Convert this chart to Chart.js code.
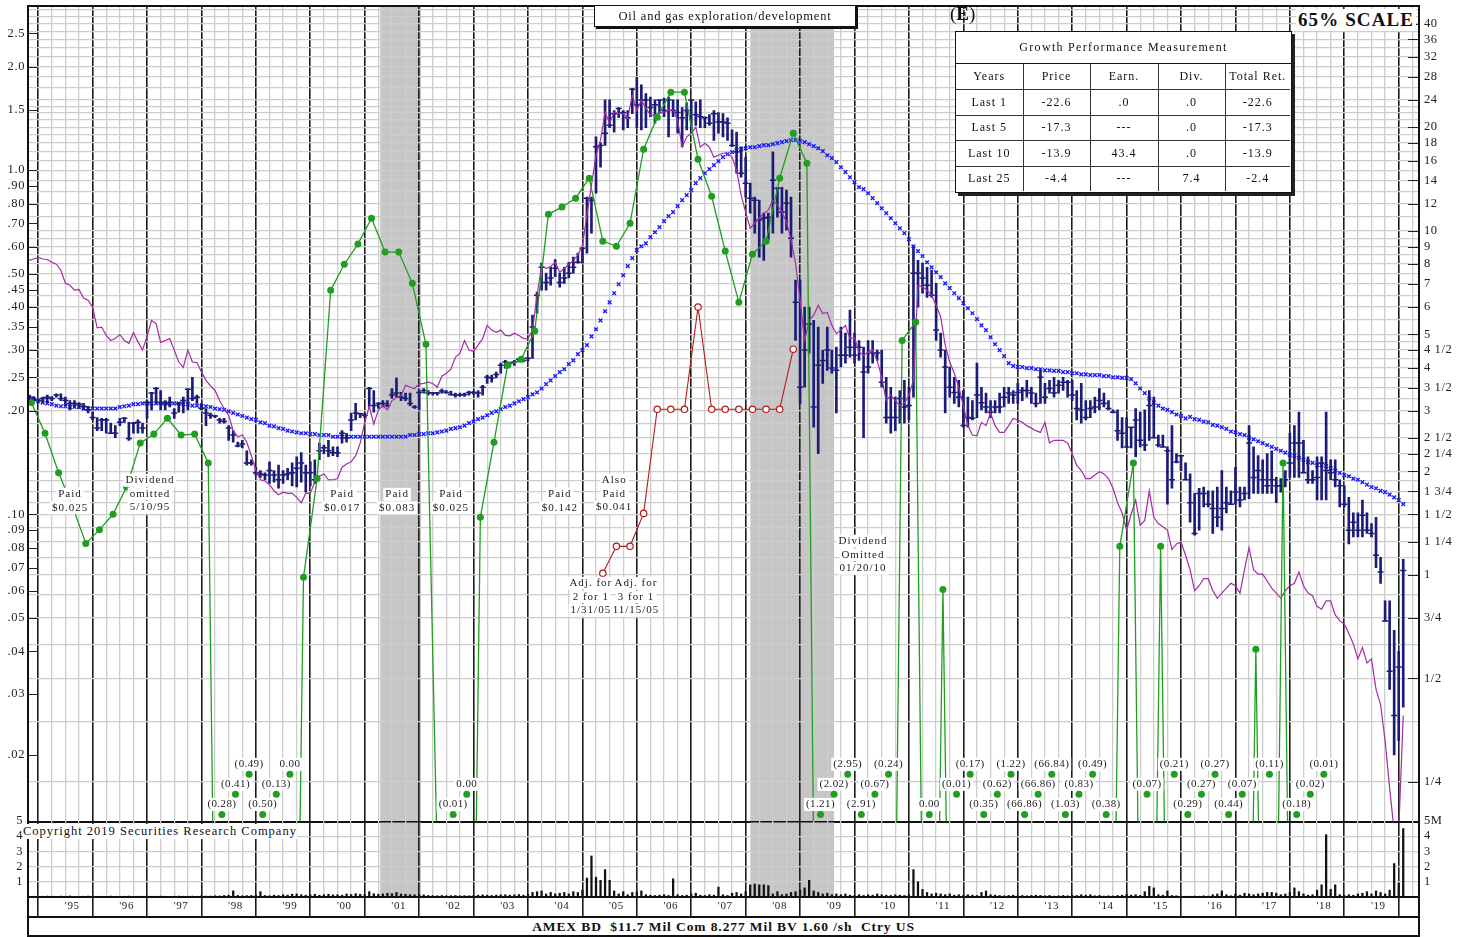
<!DOCTYPE html>
<html>
<head>
<meta charset="utf-8">
<title>Oil and gas exploration/development</title>
<script src="https://cdn.jsdelivr.net/npm/chart.js@4.4.1/dist/chart.umd.min.js"></script>
<style>
  body { margin: 0; background: #fff; }
  #page { position: relative; width: 1468px; height: 937px; overflow: hidden;
          font-family: "Liberation Serif", "Times New Roman", serif; color: #111; }
  canvas { position: absolute; left: 0; }
  #priceChart { top: 0; }
  #volChart { top: 815px; }
  #frame { position: absolute; left: 27px; top: 5px; width: 1393px; height: 931px;
           border: 2px solid #111; border-bottom: none; box-sizing: border-box; pointer-events: none; }
  #infoBar { position: absolute; left: 27px; top: 916px; width: 1393px; height: 21px;
             border: 2px solid #111; box-sizing: border-box; background: #fff; text-align: center;
             font-weight: bold; font-size: 13.5px; letter-spacing: 0.9px; line-height: 17px; white-space: pre; }
  #industry { position: absolute; left: 594px; top: 5px; width: 262px; height: 22px; box-sizing: border-box;
              border: 1.5px solid #111; box-shadow: 2px 2px 0 #111; background: #fff; text-align: center;
              font-size: 12.5px; letter-spacing: 0.8px; line-height: 21px; }
  #estMark { position: absolute; left: 950px; top: 3px; font-size: 19px; line-height: 22px; }
  #scale { position: absolute; left: 1296px; top: 9px; background: #fff; font-weight: bold;
           font-size: 19px; letter-spacing: 1.1px; line-height: 22px; padding: 0 2px; }
  #copy { position: absolute; left: 23px; top: 824px; font-size: 12.5px; letter-spacing: 1px;
          line-height: 15px; background: #fff; }
  #perf { position: absolute; left: 955px; top: 31px; width: 337px; height: 162px; box-sizing: border-box;
          border: 1.5px solid #111; box-shadow: 3px 3px 0 #222; background: #fff; }
  #perf .ttl { height: 31px; line-height: 31px; text-align: center; font-size: 12px; letter-spacing: 1.3px;
               border-bottom: 1.5px solid #111; }
  #perf table { border-collapse: collapse; table-layout: fixed; width: 334px; font-size: 12px; letter-spacing: 1px; }
  #perf td { border: 1px solid #333; text-align: center; height: 24.5px; padding: 0; overflow: hidden; white-space: nowrap; }
  #perf tr:first-child td { border-top: none; height: 25px; }
  #perf tr td:first-child { border-left: none; }
  #perf tr td:last-child { border-right: none; }
  #perf tr:last-child td { border-bottom: none; }
</style>
</head>
<body>
<div id="page">
  <canvas id="priceChart" width="1468" height="827"></canvas>
  <canvas id="volChart" width="1468" height="104"></canvas>
  <div id="frame"></div>
  <div id="industry">Oil and gas exploration/development</div>
  <div id="estMark">(<b>E</b>)</div>
  <div id="scale">65% SCALE</div>
  <div id="perf">
    <div class="ttl">Growth Performance Measurement</div>
    <table>
      <colgroup><col style="width:67px"><col style="width:67px"><col style="width:68px"><col style="width:67px"><col style="width:65px"></colgroup>
      <tr><td>Years</td><td>Price</td><td>Earn.</td><td>Div.</td><td>Total Ret.</td></tr>
      <tr><td>Last 1</td><td>-22.6</td><td>.0</td><td>.0</td><td>-22.6</td></tr>
      <tr><td>Last 5</td><td>-17.3</td><td>---</td><td>.0</td><td>-17.3</td></tr>
      <tr><td>Last 10</td><td>-13.9</td><td>43.4</td><td>.0</td><td>-13.9</td></tr>
      <tr><td>Last 25</td><td>-4.4</td><td>---</td><td>7.4</td><td>-2.4</td></tr>
    </table>
  </div>
  <div id="copy">Copyright 2019 Securities Research Company</div>
  <div id="infoBar">AMEX BD  $11.7 Mil Com 8.277 Mil BV 1.60 /sh  Ctry US</div>
</div>
<script>
// ---- data (monthly series start September 1994, one row per year) ----
const firstYear = 1994, firstMonth = 9;

const yearLabels = ["'95","'96","'97","'98","'99","'00","'01","'02","'03","'04","'05","'06",
  "'07","'08","'09","'10","'11","'12","'13","'14","'15","'16","'17","'18","'19"];

const leftTickValues = [2.5, 2.0, 1.5, 1.0, 0.9, 0.8, 0.7, 0.6, 0.5, 0.45, 0.4, 0.35, 0.3, 0.25, 0.2,
  0.1, 0.09, 0.08, 0.07, 0.06, 0.05, 0.04, 0.03, 0.02];
const leftTickLabels = ['2.5','2.0','1.5','1.0','.90','.80','.70','.60','.50','.45','.40','.35','.30','.25','.20',
  '.10','.09','.08','.07','.06','.05','.04','.03','.02'];

const rightTickValues = [40, 36, 32, 28, 24, 20, 18, 16, 14, 12, 10, 9, 8, 7, 6, 5, 4.5, 4, 3.5, 3,
  2.5, 2.25, 2, 1.75, 1.5, 1.25, 1, 0.75, 0.5, 0.25];
const rightTickLabels = ['40','36','32','28','24','20','18','16','14','12','10','9','8','7','6','5','4 1/2','4','3 1/2','3',
  '2 1/2','2 1/4','2','1 3/4','1 1/2','1 1/4','1','3/4','1/2','1/4'];
const rightGridValues = [44, 42, 40, 38, 36, 34, 32, 30, 28, 26, 24, 23, 22, 21, 20, 19, 18, 17, 16, 15, 14, 13, 12, 11,
  10, 9.5, 9, 8.5, 8, 7.5, 7, 6.5, 6, 5.5, 5, 4.75, 4.5, 4.25, 4, 3.75, 3.5, 3.25, 3, 2.75, 2.5, 2.25, 2,
  1.875, 1.75, 1.625, 1.5, 1.375, 1.25, 1.125, 1, 0.875, 0.75, 0.625, 0.5, 0.375, 0.25];

const volTickValues = [0, 1, 2, 3, 4, 5];
const volLabelsLeft = ['', '1', '2', '3', '4', '5'];
const volLabelsRight = ['', '1', '2', '3', '4', '5M'];

const priceHigh = [
  0.222,0.220,0.217,0.219,
  0.222,0.220,0.224,0.224,0.219,0.214,0.214,0.211,0.210,0.206,0.198,0.191,
  0.190,0.190,0.184,0.181,0.190,0.191,0.185,0.185,0.188,0.184,0.214,0.226,
  0.234,0.229,0.214,0.219,0.203,0.211,0.219,0.232,0.250,0.222,0.210,0.203,
  0.197,0.194,0.190,0.190,0.181,0.175,0.162,0.164,0.153,0.144,0.137,0.134,
  0.132,0.142,0.134,0.139,0.134,0.136,0.141,0.147,0.151,0.139,0.142,0.144,
  0.161,0.159,0.164,0.157,0.157,0.175,0.172,0.197,0.210,0.197,0.197,0.234,
  0.229,0.211,0.214,0.214,0.232,0.249,0.226,0.225,0.225,0.207,0.229,0.232,
  0.229,0.226,0.226,0.231,0.229,0.228,0.225,0.225,0.225,0.228,0.228,0.229,
  0.237,0.254,0.254,0.259,0.275,0.280,0.277,0.280,0.284,0.284,0.286,0.379,
  0.442,0.537,0.502,0.522,0.550,0.502,0.522,0.540,0.559,0.574,0.597,0.835,
  0.835,1.25,1.20,1.60,1.60,1.49,1.52,1.49,1.49,1.73,1.86,1.77,
  1.67,1.63,1.60,1.60,1.62,1.63,1.60,1.60,1.52,1.57,1.60,1.58,
  1.60,1.43,1.45,1.49,1.47,1.46,1.42,1.31,1.29,1.17,1.09,0.917,
  0.835,0.818,0.750,0.750,1.13,0.892,0.892,0.875,0.835,0.479,0.479,0.400,
  0.400,0.366,0.350,0.300,0.350,0.300,0.306,0.350,0.336,0.392,0.336,0.320,
  0.306,0.320,0.320,0.300,0.300,0.250,0.234,0.219,0.229,0.245,0.234,0.597,
  0.547,0.537,0.522,0.512,0.469,0.336,0.300,0.268,0.250,0.245,0.229,0.219,
  0.214,0.275,0.234,0.225,0.214,0.214,0.225,0.234,0.234,0.229,0.240,0.234,
  0.245,0.234,0.225,0.262,0.240,0.245,0.250,0.245,0.250,0.245,0.245,0.229,
  0.240,0.214,0.214,0.219,0.232,0.225,0.214,0.201,0.201,0.191,0.191,0.179,
  0.203,0.198,0.201,0.229,0.219,0.170,0.170,0.157,0.181,0.150,0.148,0.141,
  0.131,0.115,0.119,0.120,0.117,0.117,0.120,0.134,0.120,0.117,0.137,0.120,
  0.120,0.181,0.157,0.148,0.144,0.150,0.153,0.128,0.127,0.134,0.172,0.181,
  0.198,0.164,0.147,0.134,0.147,0.147,0.198,0.144,0.144,0.126,0.121,0.112,
  0.101,0.101,0.110,0.101,0.094,0.098,0.075,0.056,0.056,0.046,0.040,0.074
];
const priceLow = [
  0.214,0.213,0.211,0.211,
  0.211,0.214,0.219,0.214,0.207,0.201,0.205,0.203,0.201,0.197,0.188,0.175,
  0.175,0.172,0.172,0.167,0.181,0.185,0.164,0.172,0.172,0.172,0.190,0.201,
  0.210,0.201,0.201,0.205,0.190,0.198,0.197,0.201,0.214,0.210,0.201,0.181,
  0.190,0.191,0.184,0.184,0.164,0.162,0.157,0.156,0.139,0.139,0.130,0.128,
  0.126,0.123,0.124,0.119,0.123,0.126,0.121,0.120,0.124,0.116,0.121,0.123,
  0.144,0.150,0.147,0.148,0.147,0.161,0.162,0.175,0.188,0.191,0.191,0.205,
  0.198,0.203,0.205,0.205,0.217,0.219,0.214,0.214,0.207,0.203,0.201,0.225,
  0.222,0.222,0.222,0.225,0.225,0.222,0.219,0.220,0.220,0.222,0.223,0.219,
  0.222,0.240,0.242,0.249,0.257,0.266,0.268,0.271,0.277,0.277,0.279,0.284,
  0.384,0.448,0.448,0.463,0.490,0.457,0.469,0.486,0.502,0.537,0.537,0.574,
  0.656,0.857,1.02,1.18,1.33,1.29,1.42,1.31,1.33,1.46,1.33,1.31,
  1.33,1.43,1.37,1.46,1.43,1.25,1.43,1.28,1.17,1.31,1.31,1.35,
  1.33,1.33,1.35,1.22,1.28,1.25,1.22,1.17,0.980,0.954,0.835,0.750,
  0.656,0.559,0.547,0.626,0.656,0.730,0.656,0.669,0.559,0.320,0.210,0.234,
  0.294,0.179,0.150,0.240,0.262,0.257,0.197,0.268,0.275,0.286,0.275,0.280,
  0.167,0.257,0.275,0.280,0.234,0.184,0.172,0.175,0.184,0.184,0.188,0.219,
  0.400,0.439,0.427,0.427,0.320,0.286,0.197,0.219,0.210,0.205,0.179,0.179,
  0.188,0.191,0.201,0.197,0.191,0.197,0.197,0.205,0.210,0.210,0.210,0.214,
  0.219,0.210,0.205,0.210,0.210,0.225,0.219,0.225,0.229,0.219,0.214,0.188,
  0.184,0.188,0.191,0.197,0.201,0.205,0.201,0.197,0.164,0.156,0.157,0.156,
  0.147,0.157,0.153,0.164,0.167,0.157,0.157,0.107,0.119,0.141,0.134,0.126,
  0.0948,0.087,0.0899,0.105,0.105,0.088,0.092,0.0899,0.101,0.107,0.107,0.105,
  0.110,0.111,0.115,0.115,0.115,0.115,0.115,0.108,0.116,0.120,0.128,0.128,
  0.128,0.132,0.123,0.123,0.110,0.110,0.110,0.126,0.120,0.105,0.105,0.082,
  0.086,0.086,0.086,0.088,0.086,0.070,0.063,0.049,0.031,0.020,0.022,0.0275
];
const priceClose = [
  0.219,0.216,0.214,0.217,
  0.219,0.217,0.222,0.217,0.214,0.210,0.210,0.209,0.206,0.201,0.191,0.178,
  0.188,0.188,0.172,0.172,0.185,0.190,0.166,0.184,0.185,0.178,0.211,0.225,
  0.232,0.211,0.209,0.211,0.197,0.210,0.214,0.231,0.217,0.219,0.203,0.197,
  0.194,0.193,0.188,0.186,0.178,0.170,0.158,0.160,0.141,0.141,0.132,0.131,
  0.130,0.134,0.130,0.126,0.130,0.131,0.132,0.136,0.141,0.132,0.132,0.126,
  0.153,0.156,0.153,0.151,0.151,0.172,0.167,0.188,0.197,0.196,0.194,0.232,
  0.207,0.210,0.210,0.207,0.222,0.225,0.219,0.217,0.210,0.205,0.226,0.229,
  0.225,0.225,0.225,0.228,0.226,0.223,0.222,0.222,0.223,0.226,0.226,0.225,
  0.234,0.250,0.249,0.255,0.271,0.277,0.275,0.277,0.282,0.280,0.284,0.350,
  0.433,0.522,0.472,0.486,0.519,0.472,0.486,0.502,0.522,0.540,0.593,0.829,
  0.818,1.17,1.18,1.28,1.35,1.46,1.51,1.47,1.42,1.72,1.55,1.60,
  1.60,1.52,1.55,1.60,1.49,1.60,1.49,1.47,1.42,1.49,1.60,1.45,
  1.43,1.42,1.37,1.46,1.38,1.38,1.37,1.18,1.13,0.980,0.917,0.829,
  0.818,0.716,0.725,0.730,0.935,0.886,0.755,0.802,0.634,0.413,0.234,0.300,
  0.357,0.205,0.271,0.280,0.300,0.266,0.262,0.290,0.290,0.306,0.290,0.306,
  0.259,0.268,0.294,0.294,0.242,0.191,0.191,0.191,0.217,0.205,0.207,0.502,
  0.502,0.486,0.463,0.433,0.343,0.300,0.268,0.234,0.226,0.219,0.181,0.191,
  0.190,0.222,0.211,0.205,0.198,0.205,0.205,0.219,0.225,0.222,0.226,0.229,
  0.229,0.225,0.210,0.250,0.219,0.232,0.225,0.237,0.242,0.242,0.222,0.203,
  0.201,0.191,0.203,0.205,0.214,0.210,0.203,0.198,0.175,0.172,0.157,0.179,
  0.188,0.164,0.159,0.207,0.167,0.159,0.157,0.153,0.126,0.142,0.148,0.126,
  0.108,0.088,0.115,0.115,0.107,0.104,0.098,0.104,0.108,0.107,0.116,0.110,
  0.115,0.161,0.128,0.134,0.126,0.121,0.126,0.121,0.121,0.126,0.141,0.161,
  0.161,0.132,0.126,0.126,0.128,0.141,0.134,0.132,0.126,0.121,0.107,0.0899,
  0.0948,0.0899,0.0994,0.0899,0.088,0.076,0.068,0.049,0.035,0.026,0.036,0.0687
];
// relative strength line (purple)
const relStrength = [
  0.547,0.552,0.558,0.552,
  0.550,0.540,0.533,0.512,0.469,0.463,0.448,0.450,0.425,0.419,0.400,0.348,
  0.350,0.331,0.320,0.324,0.333,0.320,0.314,0.337,0.317,0.300,0.329,0.366,
  0.358,0.316,0.320,0.324,0.300,0.277,0.267,0.300,0.277,0.276,0.259,0.245,
  0.236,0.229,0.214,0.203,0.194,0.175,0.168,0.170,0.162,0.148,0.134,0.126,
  0.125,0.122,0.117,0.114,0.116,0.115,0.115,0.112,0.108,0.115,0.115,0.124,
  0.129,0.131,0.126,0.126,0.127,0.137,0.140,0.142,0.148,0.161,0.185,0.206,
  0.183,0.201,0.207,0.201,0.214,0.218,0.221,0.237,0.234,0.232,0.239,0.240,
  0.242,0.240,0.234,0.252,0.257,0.264,0.286,0.294,0.320,0.300,0.297,0.310,
  0.324,0.354,0.343,0.338,0.343,0.331,0.330,0.336,0.331,0.324,0.324,0.343,
  0.433,0.529,0.518,0.525,0.540,0.505,0.518,0.532,0.547,0.566,0.605,0.740,
  0.905,1.105,1.222,1.474,1.370,1.474,1.460,1.460,1.417,1.652,1.494,1.598,
  1.514,1.445,1.445,1.465,1.474,1.494,1.494,1.397,1.166,1.250,1.280,1.333,
  1.166,1.198,1.166,1.091,1.105,1.120,1.120,1.091,1.000,0.846,0.755,0.678,
  0.701,0.725,0.750,0.765,0.818,0.791,0.755,0.706,0.630,0.537,0.419,0.320,
  0.366,0.379,0.405,0.383,0.386,0.354,0.335,0.343,0.354,0.324,0.326,0.296,
  0.290,0.296,0.300,0.280,0.250,0.214,0.222,0.214,0.207,0.210,0.222,0.245,
  0.463,0.458,0.448,0.433,0.405,0.375,0.310,0.277,0.257,0.234,0.207,0.181,
  0.170,0.169,0.185,0.181,0.197,0.181,0.173,0.173,0.181,0.190,0.188,0.185,
  0.181,0.178,0.175,0.173,0.185,0.161,0.164,0.164,0.164,0.161,0.150,0.139,
  0.134,0.127,0.127,0.130,0.133,0.131,0.127,0.119,0.108,0.101,0.090,0.100,
  0.110,0.093,0.096,0.117,0.098,0.094,0.092,0.090,0.079,0.082,0.083,0.076,
  0.069,0.060,0.062,0.065,0.065,0.060,0.057,0.059,0.061,0.063,0.062,0.059,
  0.069,0.080,0.069,0.067,0.067,0.064,0.061,0.059,0.057,0.060,0.062,0.063,
  0.068,0.062,0.059,0.058,0.054,0.053,0.056,0.056,0.051,0.049,0.048,0.045,
  0.042,0.038,0.041,0.037,0.038,0.031,0.028,0.022,0.016,0.012,0.012,0.026
];
// moving average (blue crosses)
const movingAvg = [
  0.219,0.216,0.213,0.211,
  0.210,0.209,0.207,0.206,0.206,0.205,0.205,0.205,0.203,0.203,0.203,0.203,
  0.203,0.203,0.203,0.203,0.205,0.206,0.207,0.209,0.209,0.210,0.210,0.210,
  0.210,0.210,0.210,0.210,0.210,0.210,0.209,0.209,0.207,0.207,0.206,0.206,
  0.205,0.203,0.202,0.201,0.199,0.197,0.195,0.193,0.191,0.189,0.188,0.185,
  0.184,0.181,0.180,0.178,0.177,0.175,0.174,0.173,0.172,0.172,0.171,0.171,
  0.170,0.170,0.170,0.168,0.168,0.168,0.168,0.168,0.168,0.168,0.168,0.168,
  0.168,0.168,0.168,0.168,0.168,0.168,0.168,0.168,0.170,0.170,0.171,0.171,
  0.172,0.172,0.173,0.174,0.175,0.177,0.178,0.179,0.181,0.184,0.186,0.189,
  0.191,0.194,0.197,0.199,0.202,0.205,0.207,0.210,0.213,0.216,0.219,0.223,
  0.226,0.232,0.239,0.245,0.252,0.259,0.264,0.273,0.280,0.292,0.300,0.310,
  0.329,0.345,0.366,0.389,0.413,0.439,0.466,0.495,0.526,0.555,0.586,0.601,
  0.613,0.639,0.660,0.683,0.711,0.735,0.755,0.786,0.818,0.846,0.875,0.917,
  0.948,0.980,1.007,1.034,1.062,1.091,1.113,1.128,1.143,1.151,1.158,1.166,
  1.166,1.174,1.182,1.182,1.190,1.198,1.206,1.214,1.222,1.222,1.214,1.206,
  1.190,1.174,1.158,1.136,1.105,1.084,1.055,1.020,0.987,0.954,0.923,0.892,
  0.881,0.857,0.829,0.802,0.775,0.750,0.725,0.701,0.678,0.656,0.630,0.601,
  0.582,0.563,0.540,0.522,0.505,0.489,0.469,0.454,0.439,0.425,0.411,0.397,
  0.384,0.369,0.354,0.343,0.327,0.312,0.300,0.288,0.275,0.270,0.268,0.268,
  0.266,0.266,0.264,0.264,0.262,0.262,0.261,0.261,0.259,0.259,0.257,0.257,
  0.255,0.255,0.254,0.254,0.254,0.252,0.252,0.250,0.250,0.249,0.249,0.247,
  0.240,0.232,0.225,0.217,0.211,0.207,0.203,0.201,0.198,0.195,0.193,0.190,
  0.192,0.189,0.188,0.186,0.185,0.182,0.181,0.179,0.177,0.174,0.173,0.171,
  0.170,0.167,0.165,0.163,0.161,0.159,0.157,0.155,0.153,0.151,0.149,0.148,
  0.146,0.144,0.142,0.141,0.139,0.139,0.138,0.136,0.134,0.132,0.130,0.129,
  0.127,0.126,0.124,0.122,0.120,0.119,0.117,0.116,0.114,0.112,0.110,0.107
];
// monthly volume, millions of shares
const volume = [
  0.04,0.05,0.04,0.05,
  0.06,0.05,0.04,0.06,0.05,0.07,0.05,0.04,0.05,0.06,0.05,0.04,
  0.05,0.04,0.06,0.05,0.04,0.05,0.06,0.04,0.05,0.05,0.06,0.05,
  0.05,0.06,0.05,0.04,0.05,0.06,0.05,0.05,0.06,0.05,0.08,0.06,
  0.06,0.08,0.07,0.10,0.12,0.40,0.10,0.08,0.09,0.10,0.12,0.35,
  0.10,0.08,0.12,0.10,0.15,0.12,0.18,0.20,0.15,0.12,0.14,0.18,
  0.12,0.15,0.18,0.14,0.15,0.12,0.20,0.16,0.22,0.18,0.15,0.35,
  0.22,0.18,0.20,0.25,0.22,0.30,0.20,0.18,0.15,0.14,0.16,0.14,
  0.10,0.09,0.08,0.10,0.08,0.09,0.10,0.08,0.09,0.08,0.10,0.12,
  0.14,0.12,0.10,0.12,0.14,0.15,0.12,0.14,0.16,0.12,0.18,0.30,
  0.35,0.40,0.20,0.30,0.20,0.25,0.30,0.20,0.35,0.30,0.45,1.25,
  2.70,1.30,1.10,1.80,1.10,0.40,0.20,0.35,0.15,0.30,0.35,0.40,
  0.15,0.12,0.10,0.12,0.15,0.10,1.20,0.15,0.10,0.12,0.20,0.25,
  0.12,0.10,0.15,0.12,0.65,0.15,0.10,0.25,0.30,0.20,0.35,0.80,
  0.85,0.80,0.80,0.75,0.20,0.35,0.15,0.20,0.30,0.35,0.45,0.60,
  1.10,0.40,0.30,0.20,0.25,0.15,0.20,0.15,0.20,0.12,0.10,0.15,
  0.10,0.15,0.12,0.20,0.15,0.12,0.10,0.15,0.12,0.10,0.15,1.80,
  1.00,0.50,0.30,0.20,0.25,0.20,0.15,0.20,0.12,0.15,0.10,0.15,
  0.12,0.10,0.30,0.40,0.15,0.12,0.10,0.08,0.10,0.12,0.08,0.10,
  0.08,0.10,0.12,0.10,0.08,0.10,0.06,0.08,0.10,0.08,0.12,0.10,
  0.15,0.12,0.15,0.08,0.10,0.06,0.08,0.07,0.10,0.12,0.18,0.12,
  0.15,0.10,0.35,0.70,0.60,0.15,0.12,0.40,0.10,0.08,0.06,0.05,
  0.05,0.06,0.05,0.08,0.06,0.15,0.20,0.40,0.15,0.08,0.20,0.12,
  0.25,0.20,0.15,0.20,0.25,0.30,0.30,0.25,0.15,0.20,0.30,0.60,
  0.35,0.20,0.12,0.15,0.45,0.80,4.10,0.50,0.80,0.15,0.10,0.15,
  0.12,0.20,0.25,0.35,0.20,0.40,0.30,0.20,0.45,2.20,0.90,4.50
];
// quarterly earnings line, first point at the end of Q3 1994 (negatives are losses)
const epsStart = 1994.75;
const earnings = [
  0.211,0.172,0.132,0.106,0.0823,0.0901,0.100,0.120,0.161,0.171,0.190,0.170,0.171,0.141,
  -0.28,-0.41,-0.49,-0.50,-0.13,0.00,
  0.0656,0.127,0.448,0.533,0.610,0.725,0.578,0.578,0.469,0.312,
  0.005,-0.01,0.00,
  0.098,0.162,0.271,0.282,0.341,0.745,0.781,0.829,0.948,0.622,0.601,0.701,1.151,
  1.426,1.685,1.685,1.076,0.840,0.582,0.413,0.570,0.622,0.948,1.281,1.048,
  -1.21,-2.02,-2.95,-2.91,-0.67,-0.24,
  0.320,0.362,0.00,0.0605,
  -0.01,-0.17,-0.35,-0.62,-1.22,-66.86,-66.86,-66.84,-1.03,-0.83,-0.49,-0.38,
  0.0807,0.141,-0.07,0.0807,
  -0.21,-0.29,-0.27,-0.27,-0.44,-0.07,
  0.0405,-0.11,0.141,-0.18,-0.02,-0.01
];
// dividend line (red open circles), quarterly from Q1 2005
const divStart = 2005.25;
const dividends = [0.0674,0.0807,0.0807,0.1006,0.2019,0.2019,0.2019,0.400,0.2019,0.2019,0.2019,0.2019,0.2019,0.2019,0.3018];
// recessions (shaded)
const recessions = [[2001.16, 2001.91], [2007.96, 2009.50]];

// ---- layout constants ----
const xMin = 1994.6876, xMax = 2020.248;
const yMin = 0.0128, yMax = 3.0, rightFactor = 15;
const lossRows = [0.01342, 0.01535, 0.01755];   // staggered rows for loss dots
const notes = [
  { x: 1995.46, y: 0.1143, lines: ['Paid', '$0.025'] },
  { x: 1996.93, y: 0.1255, lines: ['Dividend', 'omitted', '5/10/95'] },
  { x: 2000.46, y: 0.1143, lines: ['Paid', '$0.017'] },
  { x: 2001.47, y: 0.1143, lines: ['Paid', '$0.083'] },
  { x: 2002.46, y: 0.1143, lines: ['Paid', '$0.025'] },
  { x: 2004.46, y: 0.1143, lines: ['Paid', '$0.142'] },
  { x: 2005.46, y: 0.1255, lines: ['Also', 'Paid', '$0.041'] },
  { x: 2005.03, y: 0.0630, lines: ['Adj. for', '2 for 1', '1/31/05'] },
  { x: 2005.86, y: 0.0630, lines: ['Adj. for', '3 for 1', '11/15/05'] },
  { x: 2010.03, y: 0.0835, lines: ['Dividend', 'Omitted', '01/20/10'] }
];

const SERIF = '"Liberation Serif", "Times New Roman", serif';
Chart.defaults.font.family = SERIF;
Chart.defaults.color = '#222';

const monthX = i => firstYear + (firstMonth - 1 + i + 0.5) / 12;
const epsX = i => epsStart + i * 0.25;
const quarterTicks = [];
for (let q = 0; q <= 102; q++) quarterTicks.push(1994.75 + q * 0.25);
const tickVal = c => (c && c.tick) ? c.tick.value : NaN;
const isYear = v => Number.isFinite(v) && Math.abs(v - Math.round(v)) < 1e-6;
const gridColor = c => isYear(tickVal(c)) ? '#1c1c1c' : '#cdcdcd';
const gridWidth = c => isYear(tickVal(c)) ? 1.6 : 1.3;
const findIdx = (arr, v) => arr.findIndex(a => Math.abs(a - v) / a < 1e-6);

// loss points laid out in three staggered rows
const lossPoints = [];
{
  let n = 0, last = -99;
  earnings.forEach((v, i) => {
    if (v > 0) return;
    if (i - last > 8) n = 0;
    lossPoints.push({ x: epsX(i), y: lossRows[n % 3], v: v });
    n++; last = i;
  });
}

// recession shading; the volume panel keeps the panel divider visible
const shadePlugin = {
  id: 'shade',
  beforeDraw(chart, args, opts) {
    const { ctx, chartArea: a, scales } = chart;
    const top = a.top + (opts.inset || 0);
    ctx.letterSpacing = '0.6px';
    ctx.save();
    ctx.fillStyle = '#c6c6c6';
    recessions.forEach(([s, e]) => {
      const x1 = scales.x.getPixelForValue(s), x2 = scales.x.getPixelForValue(e);
      ctx.fillRect(x1, top, x2 - x1, a.bottom - top);
    });
    ctx.restore();
  }
};

const tickDashPlugin = {
  id: 'tickDash',
  afterDraw(chart) {
    const { ctx, chartArea: a, scales } = chart;
    ctx.save();
    ctx.strokeStyle = '#222';
    ctx.lineWidth = 1.2;
    ctx.beginPath();
    leftTickValues.forEach(v => {
      const y = Math.round(scales.y.getPixelForValue(v)) + 0.5;
      ctx.moveTo(a.left, y); ctx.lineTo(a.left + 9, y);
    });
    rightTickValues.forEach(v => {
      const y = Math.round(scales.yR.getPixelForValue(v)) + 0.5;
      ctx.moveTo(a.right - 11, y); ctx.lineTo(a.right, y);
    });
    ctx.stroke();
    ctx.restore();
  }
};

function labelText(ctx, text, x, y) {
  const w = ctx.measureText(text).width;
  ctx.fillStyle = '#fff';
  ctx.fillRect(x - w / 2 - 2, y - 6.5, w + 4, 13);
  ctx.fillStyle = '#222';
  ctx.fillText(text, x, y);
}

const notesPlugin = {
  id: 'notes',
  afterDatasetsDraw(chart) {
    const { ctx, scales } = chart;
    ctx.save();
    ctx.font = '11px ' + SERIF;
    ctx.letterSpacing = '1px';
    ctx.textAlign = 'center';
    ctx.textBaseline = 'middle';
    notes.forEach(n => {
      const x = scales.x.getPixelForValue(n.x);
      const y0 = scales.y.getPixelForValue(n.y);
      n.lines.forEach((t, j) => labelText(ctx, t, x, y0 + j * 13.5));
    });
    ctx.letterSpacing = '0.4px';
    lossPoints.forEach(p => {
      const x = scales.x.getPixelForValue(p.x);
      const y = scales.y.getPixelForValue(p.y) - 10;
      const t = p.v < 0 ? '(' + (-p.v).toFixed(2) + ')' : p.v.toFixed(2);
      labelText(ctx, t, x, y);
    });
    ctx.fillStyle = '#1f9e1f';
    lossPoints.forEach(p => {
      ctx.beginPath();
      ctx.arc(scales.x.getPixelForValue(p.x), scales.y.getPixelForValue(p.y), 3.5, 0, Math.PI * 2);
      ctx.fill();
    });
    ctx.restore();
  }
};

const fitWidth = w => s => { s.width = w; s.paddingTop = 0; s.paddingBottom = 0; };

// ---- price chart ----
new Chart(document.getElementById('priceChart').getContext('2d'), {
  type: 'scatter',
  data: {
    datasets: [
      {
        type: 'line', label: 'Moving average', order: 7, showLine: false,
        data: movingAvg.map((v, i) => ({ x: monthX(i), y: v })),
        pointStyle: 'crossRot', pointRadius: 2.6, pointBorderWidth: 1.4,
        pointBorderColor: '#1a1aff', pointBackgroundColor: '#1a1aff'
      },
      {
        type: 'bar', label: 'Range', order: 6,
        data: priceHigh.map((h, i) => ({ x: monthX(i), y: [priceLow[i], h] })),
        backgroundColor: '#1c1c78', barThickness: 2, grouped: false
      },
      {
        type: 'line', label: 'Close', order: 5, showLine: false,
        data: priceClose.map((v, i) => ({ x: monthX(i), y: v })),
        pointStyle: 'line', pointRadius: 3, pointBorderWidth: 1.5, pointBorderColor: '#1c1c78'
      },
      {
        type: 'line', label: 'Relative strength', order: 4,
        data: relStrength.map((v, i) => ({ x: monthX(i), y: v })),
        borderColor: '#a42ca4', borderWidth: 1.2, pointRadius: 0, tension: 0
      },
      {
        type: 'line', label: 'Dividends', order: 3,
        data: dividends.map((v, i) => ({ x: divStart + i * 0.25, y: v })),
        borderColor: '#b21a1a', borderWidth: 1.1, pointRadius: 3.2, pointBorderWidth: 1.2,
        pointBackgroundColor: '#fff', pointBorderColor: '#b21a1a'
      },
      {
        type: 'line', label: 'Earnings', order: 2,
        data: earnings.map((v, i) => ({ x: epsX(i), y: v > 0 ? v : 1e-4 })),
        borderColor: '#1f9e1f', borderWidth: 1.3,
        pointRadius: c => earnings[c.dataIndex] > yMin ? 3.5 : 0,
        pointBackgroundColor: '#1f9e1f', pointBorderColor: '#1f9e1f', pointBorderWidth: 0
      }
    ]
  },
  options: {
    responsive: false, animation: false, devicePixelRatio: 1, events: [],
    layout: { padding: { top: 6, bottom: 1.5, left: 0, right: 0 } },
    plugins: { legend: { display: false }, tooltip: { enabled: false }, shade: { inset: 0 } },
    scales: {
      x: {
        type: 'linear', min: xMin, max: xMax, offset: false,
        afterBuildTicks: s => { s.ticks = quarterTicks.map(v => ({ value: v })); },
        grid: { color: gridColor, lineWidth: gridWidth, drawTicks: false, tickWidth: 1, tickColor: '#000' },
        border: { display: true, color: '#111', width: 2 },
        ticks: { display: false },
        afterFit: s => { s.height = 0; s.paddingLeft = 0; s.paddingRight = 0; }
      },
      y: {
        type: 'logarithmic', position: 'left', min: yMin, max: yMax,
        afterBuildTicks: s => { s.ticks = leftTickValues.map(v => ({ value: v })); },
        grid: { display: false, drawTicks: false }, border: { display: false },
        ticks: { autoSkip: false, padding: 3, font: { size: 12.5 },
                 callback: (v, i) => leftTickLabels[i] },
        afterFit: fitWidth(28)
      },
      yR: {
        type: 'logarithmic', position: 'right', min: yMin * rightFactor, max: yMax * rightFactor,
        afterBuildTicks: s => { s.ticks = rightGridValues.map(v => ({ value: v })); },
        grid: { color: '#cdcdcd', lineWidth: 1.3, drawTicks: false },
        border: { display: false },
        ticks: { autoSkip: false, padding: 5, font: { size: 12.5 },
                 callback: v => { const k = findIdx(rightTickValues, v); return k < 0 ? '' : rightTickLabels[k]; } },
        afterFit: fitWidth(49)
      }
    }
  },
  plugins: [shadePlugin, tickDashPlugin, notesPlugin]
});

// ---- volume chart ----
new Chart(document.getElementById('volChart').getContext('2d'), {
  type: 'bar',
  data: {
    datasets: [{
      label: 'Volume', yAxisID: 'yv',
      data: volume.map((v, i) => ({ x: monthX(i), y: v })),
      backgroundColor: '#111', barThickness: 1.6, grouped: false
    }]
  },
  options: {
    responsive: false, animation: false, devicePixelRatio: 1, events: [],
    layout: { padding: { top: 6, bottom: 2, left: 0, right: 0 } },
    plugins: { legend: { display: false }, tooltip: { enabled: false }, shade: { inset: 1.5 } },
    scales: {
      x: {
        type: 'linear', min: xMin, max: xMax, offset: false,
        afterBuildTicks: s => { s.ticks = quarterTicks.map(v => ({ value: v })); },
        grid: { color: gridColor, lineWidth: gridWidth, drawTicks: true, tickLength: 20,
                tickColor: c => isYear(tickVal(c)) ? '#1c1c1c' : 'rgba(0,0,0,0)', tickWidth: 1.6 },
        border: { display: true, color: '#111', width: 2 },
        ticks: { autoSkip: false, maxRotation: 0, padding: -17, font: { size: 11 },
                 callback: v => {
                   if (Math.abs(v - Math.floor(v) - 0.5) > 1e-6) return '';
                   return yearLabels[Math.floor(v) - 1995] || '';
                 } },
        afterFit: s => { s.height = 20; s.paddingLeft = 0; s.paddingRight = 0; }
      },
      yv: {
        type: 'linear', position: 'left', min: 0, max: 5,
        afterBuildTicks: s => { s.ticks = volTickValues.map(v => ({ value: v })); },
        grid: { color: c => { const v = tickVal(c); return (v > 0 && v < 5) ? '#cdcdcd' : 'rgba(0,0,0,0)'; },
                lineWidth: 1.3, drawTicks: false },
        border: { display: false },
        ticks: { autoSkip: false, padding: 5, font: { size: 12.5 }, callback: (v, i) => volLabelsLeft[i] },
        afterFit: fitWidth(28)
      },
      yvR: {
        type: 'linear', position: 'right', min: 0, max: 5,
        afterBuildTicks: s => { s.ticks = volTickValues.map(v => ({ value: v })); },
        grid: { display: false, drawTicks: false }, border: { display: false },
        ticks: { autoSkip: false, padding: 5, font: { size: 12.5 }, callback: (v, i) => volLabelsRight[i] },
        afterFit: fitWidth(49)
      }
    }
  },
  plugins: [shadePlugin]
});
</script>
</body>
</html>
